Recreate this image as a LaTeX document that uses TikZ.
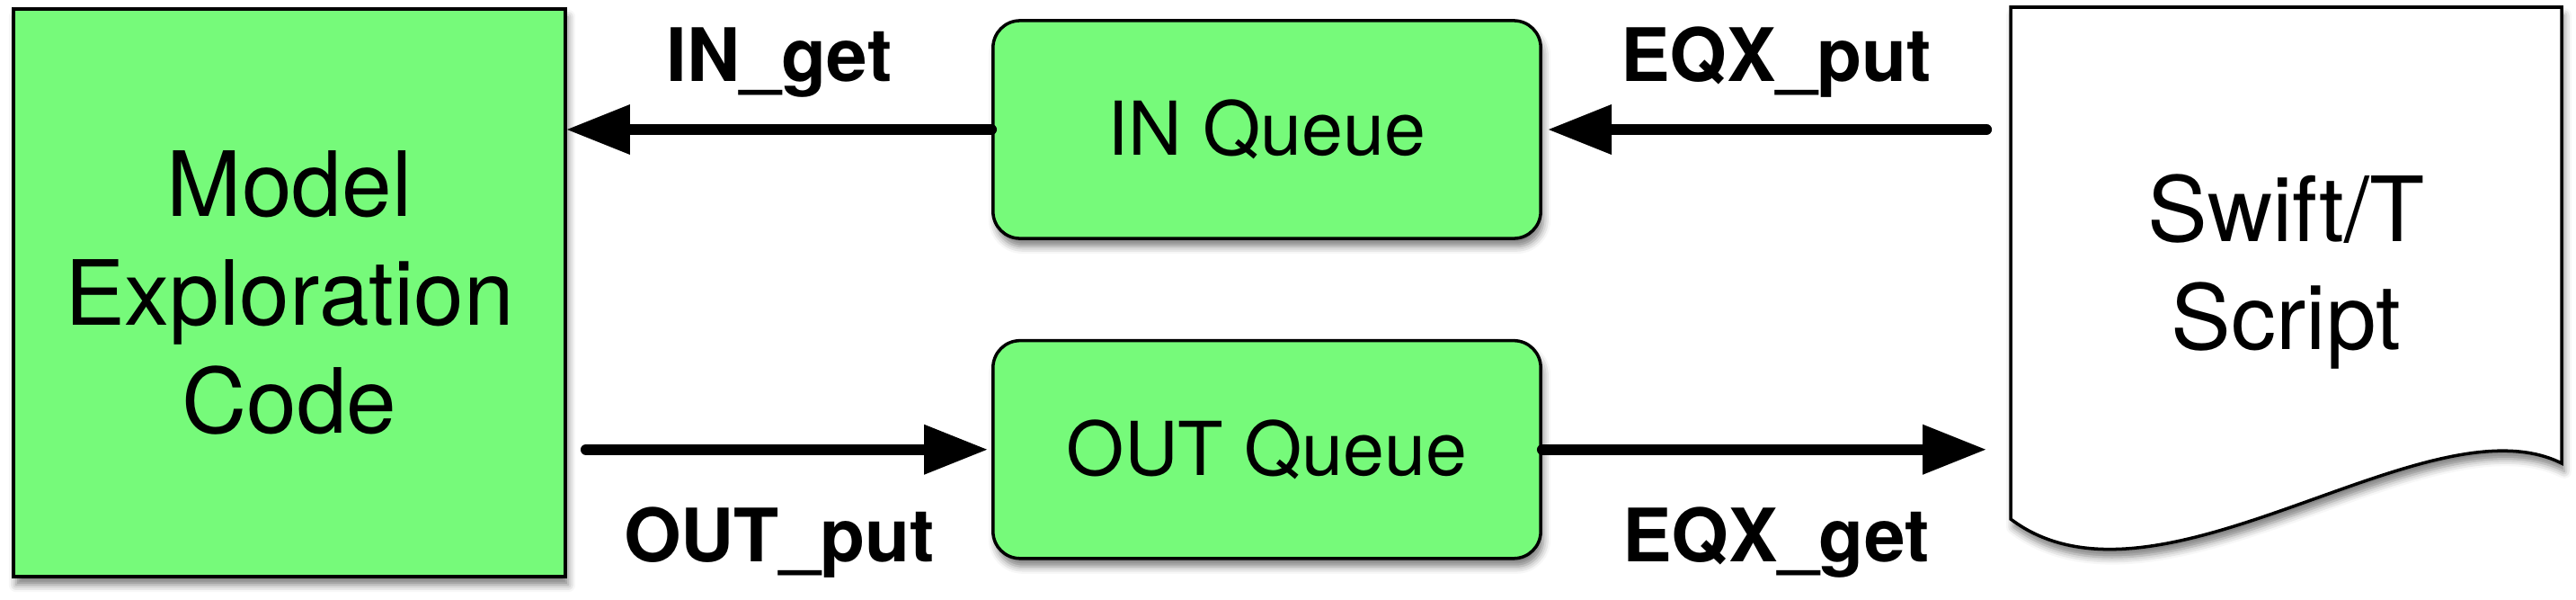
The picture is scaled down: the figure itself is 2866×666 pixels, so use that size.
\documentclass[tikz,border=0pt]{standalone}
\usepackage{fontspec}
\setmainfont{TeX Gyre Heros}
\usepackage{tikz}
\usetikzlibrary{arrows.meta,positioning,shadows.blur}
\definecolor{queuegreen}{RGB}{118,250,122}
\tikzset{
	shade below/.style = {blur shadow = {shadow xshift = 0.03cm, shadow yshift = -0.09cm, shadow blur radius = 0.08cm, shadow opacity = 50}},
	box/.style = {draw, line width = 1pt, fill = queuegreen, shade below},
	queue/.style = {box, rounded corners = 0.3cm, minimum width = 6.09cm, minimum height = 2.42cm, font = \fontsize{23.5pt}{28pt}\selectfont},
	doc/.style = {draw, line width = 1pt, fill = white, shade below},
	flow/.style = {-{Triangle[length = 0.7cm, width = 0.56cm, line width = 0pt, fill = black]}, line width = 0.12cm, line cap = round},
	lbl/.style = {font = \fontsize{23.3pt}{28pt}\selectfont\bfseries, anchor = base, inner sep = 0pt},
	lbl above/.style = {lbl, yshift = 0.53cm},
	lbl below/.style = {lbl, yshift = -1.25cm}
}
\begin{document}
\begin{tikzpicture}[x = 0.01cm, y = -0.01cm]
	\useasboundingbox (0,0) rectangle (2866,666);
	\node (model) [box, minimum width = 6.14cm, minimum height = 6.31cm, align = center,
		font = \fontsize{28.45pt}{34.2pt}\selectfont] at (322,325.5) {Model\\Exploration\\Code};
	\node (inq) [queue] at (1409.5,144) {IN Queue};
	\node (outq) [queue, below = 1.1cm of inq] {OUT Queue};

	% script page with wavy bottom edge
	\draw [doc] (2237,8) -- (2850,8) -- (2850,515)
		.. controls (2700,440) and (2400,700) .. (2237,577) -- cycle;
	\node (script) [minimum width = 6.13cm, align = center,
		font = \fontsize{28.45pt}{34.2pt}\selectfont] at (2543.5,302) {Swift/T\\Script};

	\draw [flow] (inq.west) -- node [lbl above] {IN\_get} (model.east |- inq.west);
	\draw [flow, shorten <= 0.26cm, shorten >= 0.07cm] (script.west |- inq.east)
		-- node [lbl above] {EQX\_put} (inq.east);
	\draw [flow, shorten <= 0.21cm, shorten >= 0.05cm] (model.east |- outq.west)
		-- node [lbl below] {OUT\_put} (outq.west);
	\draw [flow, shorten >= 0.27cm] (outq.east)
		-- node [lbl below] {EQX\_get} (script.west |- outq.east);
\end{tikzpicture}
\end{document}
